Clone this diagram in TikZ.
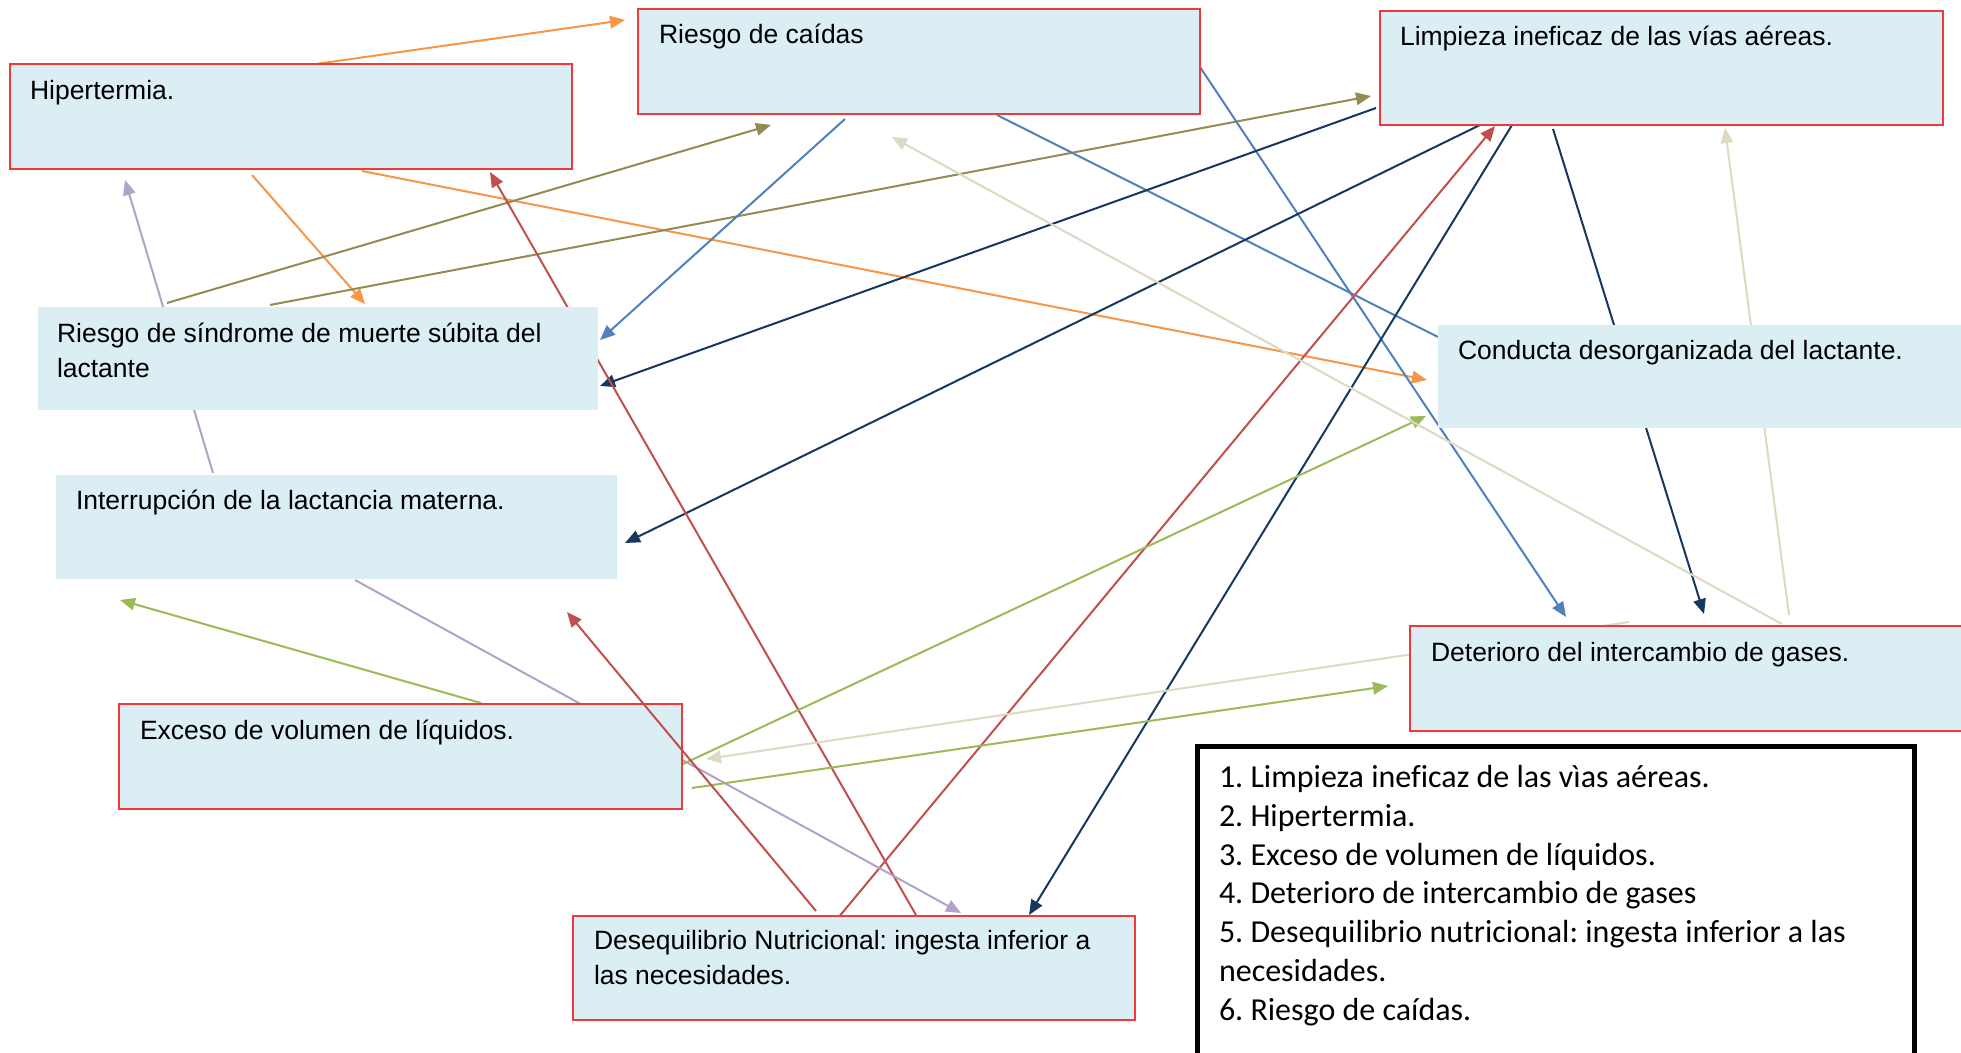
\documentclass[tikz,border=0pt]{standalone}
\usepackage{fontspec}
\setmainfont{Liberation Sans}
\newfontfamily\legfont[Ligatures=NoCommon]{Carlito}
\usetikzlibrary{arrows.meta}
\frenchspacing
\definecolor{cOrange}{HTML}{F79646}
\definecolor{cOlive}{HTML}{948A54}
\definecolor{cBlue}{HTML}{4F81BD}
\definecolor{cNavy}{HTML}{17375E}
\definecolor{cRed}{HTML}{C0504D}
\definecolor{cLav}{HTML}{B3A2C7}
\definecolor{cGreen}{HTML}{9BBB59}
\definecolor{cBeige}{HTML}{DDD9C3}
\definecolor{cFill}{HTML}{DAEEF3}
\definecolor{cBorder}{HTML}{F03A3A}
\tikzset{
  arr/.style={-{Triangle[length=15pt,width=12.5pt]}, line width=2pt},
  plainline/.style={line width=2pt},
  boxr/.style={draw=cBorder, line width=2pt, fill=cFill, inner sep=0pt, outer sep=0pt, anchor=north west},
  boxp/.style={draw=none, fill=cFill, inner sep=0pt, outer sep=0pt, anchor=north west},
  txt/.style={font=\fontsize{26.5}{32}\selectfont, anchor=base west, inner sep=0pt, outer sep=0pt},
  legtxt/.style={font=\legfont\fontsize{32}{38}\selectfont, anchor=base west, inner sep=0pt, outer sep=0pt}
}
\begin{document}
\begin{tikzpicture}[x=1pt,y=-1pt]
\useasboundingbox (0,0) rectangle (1961,1052);
\clip (0,0) rectangle (1961,1052);
\fill[white] (0,0) rectangle (1961,1052);

% connector end points
\coordinate (o1s) at (316,64);   \coordinate (o1e) at (625,20);
\coordinate (o2s) at (252,175);  \coordinate (o2e) at (365,304);
\coordinate (o3s) at (362,171);  \coordinate (o3e) at (1427,380);
\coordinate (l1s) at (167,303);  \coordinate (l1e) at (771,125);
\coordinate (l2s) at (270,305);  \coordinate (l2e) at (1371,96);
\coordinate (b1s) at (845,119);  \coordinate (b1e) at (600,340);
\coordinate (b2s) at (997,115);  \coordinate (b2e) at (1438,337);
\coordinate (b3s) at (1200,67);  \coordinate (b3e) at (1566,617);
\coordinate (n1s) at (1376,108); \coordinate (n1e) at (600,386);
\coordinate (n2s) at (1480,125); \coordinate (n2e) at (625,543);
\coordinate (n3s) at (1512,125); \coordinate (n3e) at (1029,915);
\coordinate (n4s) at (1553,129); \coordinate (n4e) at (1704,614);
\coordinate (r1s) at (916,915);  \coordinate (r1e) at (490,172);
\coordinate (r2s) at (816,911);  \coordinate (r2e) at (567,612);
\coordinate (r4s) at (838,918);  \coordinate (r4e) at (1495,126);
\coordinate (p1s) at (213,473);  \coordinate (p1e) at (125,180);
\coordinate (p2s) at (355,580);  \coordinate (p2e) at (961,913);
\coordinate (g1s) at (481,703);  \coordinate (g1e) at (120,600);
\coordinate (g2s) at (683,764);  \coordinate (g2e) at (1426,416);
\coordinate (g3s) at (692,788);  \coordinate (g3e) at (1388,686);
\coordinate (e1s) at (1782,624); \coordinate (e1e) at (892,137);
\coordinate (e2s) at (1629,622); \coordinate (e2e) at (706,759);
\coordinate (e3s) at (1789,615); \coordinate (e3e) at (1725,128);

% connectors drawn beneath the boxes
\draw[arr, cOrange] (o1s) -- (o1e);
\draw[arr, cOrange] (o2s) -- (o2e);
\draw[arr, cOrange] (o3s) -- (o3e);
\draw[arr, cOlive] (l1s) -- (l1e);
\draw[arr, cOlive] (l2s) -- (l2e);
\draw[arr, cBlue] (b1s) -- (b1e);
\draw[plainline, cBlue] (b2s) -- (b2e);
\draw[arr, cBlue] (b3s) -- (b3e);
\draw[arr, cNavy] (n1s) -- (n1e);
\draw[arr, cNavy] (n2s) -- (n2e);
\draw[arr, cNavy] (n3s) -- (n3e);
\draw[arr, cNavy] (n4s) -- (n4e);
\draw[arr, cRed] (r1s) -- (r1e);
\draw[arr, cRed] (r4s) -- (r4e);
\draw[arr, cLav] (p1s) -- (p1e);
\draw[arr, cLav] (p2s) -- (p2e);
\draw[arr, cGreen] (g1s) -- (g1e);
\draw[arr, cGreen] (g2s) -- (g2e);
\draw[arr, cGreen] (g3s) -- (g3e);
\draw[arr, cBeige] (e1s) -- (e1e);
\draw[arr, cBeige] (e2s) -- (e2e);
\draw[arr, cBeige] (e3s) -- (e3e);

% boxes
\node[boxr, minimum width=562pt, minimum height=105pt] (caidas) at (638,9) {};
\node[boxr, minimum width=562pt, minimum height=105pt] (hiper) at (10,64) {};
\node[boxr, minimum width=563pt, minimum height=114pt] (limp) at (1380,11) {};
\node[boxp, minimum width=560pt, minimum height=103pt] (smsl) at (38,307) {};
\node[boxp, minimum width=561pt, minimum height=104pt] (interr) at (56,475) {};
\node[boxp, minimum width=540pt, minimum height=103pt] (cond) at (1438,325) {};
\node[boxr, minimum width=570pt, minimum height=105pt] (deter) at (1410,626) {};
\node[boxr, minimum width=563pt, minimum height=105pt] (exceso) at (119,704) {};
\node[boxr, minimum width=562pt, minimum height=104pt] (deseq) at (573,916) {};
\node[draw=black, line width=5pt, fill=white, inner sep=0pt, outer sep=0pt, anchor=north west,
      minimum width=717pt, minimum height=309pt] (legend) at (1197,746) {};

% box texts
\node[txt] (caidas-t) at (659,43) {Riesgo de caídas};
\node[txt] (hiper-t) at (30,99) {Hipertermia.};
\node[txt] (limp-t) at (1400,45) {Limpieza ineficaz de las vías aéreas.};
\node[txt] (smsl-t1) at (57,342) {Riesgo de síndrome de muerte súbita del};
\node[txt] (smsl-t2) at (57,377) {lactante};
\node[txt] (interr-t) at (76,509) {Interrupción de la lactancia materna.};
\node[txt] (cond-t) at (1458,359) {Conducta desorganizada del lactante.};
\node[txt] (deter-t) at (1431,661) {Deterioro del intercambio de gases.};
\node[txt] (exceso-t) at (140,739) {Exceso de volumen de líquidos.};
\node[txt] (deseq-t1) at (594,949) {Desequilibrio Nutricional: ingesta inferior a};
\node[txt] (deseq-t2) at (594,984) {las necesidades.};

% legend texts
\node[legtxt] (leg1) at (1219,787.5) {1. Limpieza ineficaz de las vìas aéreas.};
\node[legtxt] (leg2) at (1219,826.3) {2. Hipertermia.};
\node[legtxt] (leg3) at (1219,865.1) {3. Exceso de volumen de líquidos.};
\node[legtxt] (leg4) at (1219,903.9) {4. Deterioro de intercambio de gases};
\node[legtxt] (leg5) at (1219,942.7) {5. Desequilibrio nutricional: ingesta inferior a las};
\node[legtxt] (leg6) at (1219,981.5) {necesidades.};
\node[legtxt] (leg7) at (1219,1020.3) {6. Riesgo de caídas.};

% connector drawn over the boxes
\draw[arr, cRed] (r2s) -- (r2e);
\end{tikzpicture}
\end{document}
